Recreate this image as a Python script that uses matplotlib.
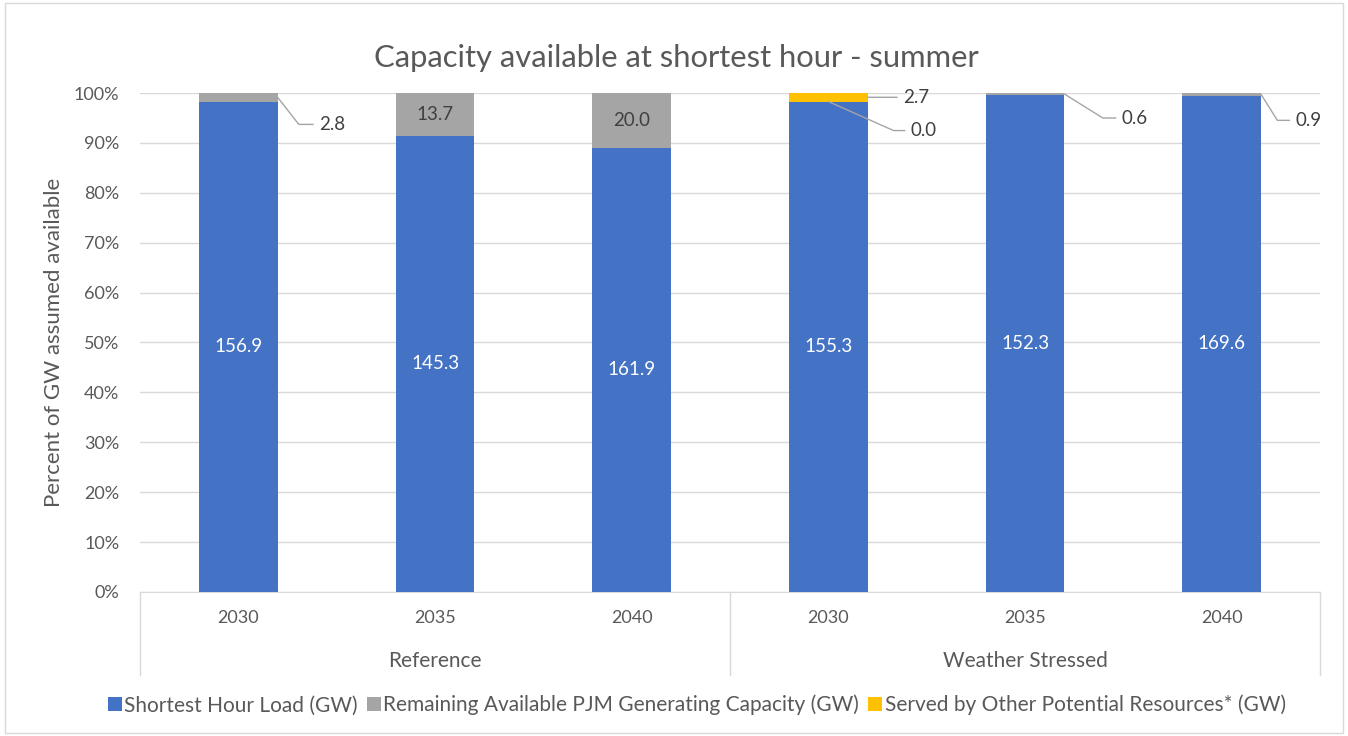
import numpy as np
import matplotlib
matplotlib.use("Agg")
import matplotlib.pyplot as plt
import matplotlib.transforms as mtransforms
from matplotlib.patches import Rectangle

plt.rcParams['font.family'] = ['Lato', 'DejaVu Sans']

# Datos (GW)
titulo = "Capacity available at shortest hour - summer"
escenarios = ["Reference", "Weather Stressed"]
anios = ["2030", "2035", "2040", "2030", "2035", "2040"]
carga = [156.9, 145.3, 161.9, 155.3, 152.3, 169.6]
restante = [2.8, 13.7, 20.0, 0.0, 0.6, 0.9]
otros = [0.0, 0.0, 0.0, 2.7, 0.0, 0.0]
series = [
    "Shortest Hour Load (GW)",
    "Remaining Available PJM Generating Capacity (GW)",
    "Served by Other Potential Resources* (GW)",
]
colores = ["#4472C4", "#A5A5A5", "#FFC000"]

GRIS_TXT = "#595959"
GRIS_LINEA = "#D9D9D9"

# Etiquetas fuera de la barra: (serie, barra) -> (desplazamiento x en la barra, dx px, dy px, ángulo guía)
etiquetas_fuera = {
    (1, 0): (0.2, 41, -27, -52),
    (1, 3): (0.0, 82, -29, -24),
    (1, 4): (0.2, 57, -24, -32),
    (1, 5): (0.2, 34, -26, -58),
    (2, 3): (0.2, 35, 0, None),
}


def main():
    valores = np.array([carga, restante, otros])
    fracciones = valores / valores.sum(axis=0)
    x = np.arange(len(anios))
    ancho = 0.40

    fig = plt.figure(figsize=(13.48, 7.36), dpi=100)
    ax = fig.add_axes([0.1039, 0.1957, 0.8754, 0.6779])

    base = np.zeros(len(anios))
    for s in range(3):
        ax.bar(x, fracciones[s], ancho, bottom=base, color=colores[s],
               label=series[s], zorder=3)
        for i in range(len(anios)):
            v = valores[s, i]
            medio = base[i] + fracciones[s, i] / 2
            if (s, i) in etiquetas_fuera:
                off, dx, dy, ang = etiquetas_fuera[(s, i)]
                if ang is None:
                    estilo = "arc3,rad=0"
                else:
                    estilo = "angle,angleA=180,angleB=%d,rad=0" % ang
                ax.annotate("%.1f" % v, xy=(i + off, medio), xytext=(dx, dy),
                            textcoords="offset pixels", ha="left", va="center",
                            fontsize=13.5, color="#404040", zorder=5,
                            arrowprops=dict(arrowstyle="-", color="#A5A5A5", lw=1,
                                            connectionstyle=estilo, relpos=(0, 0.5),
                                            shrinkA=2, shrinkB=0))
            elif s == 0:
                ax.text(i, medio, "%.1f" % v, ha="center", va="center",
                        fontsize=13.5, color="white", zorder=5)
            elif s == 1:
                ax.text(i, medio, "%.1f" % v, ha="center", va="center",
                        fontsize=13.5, color="#404040", zorder=5)
        base = base + fracciones[s]

    ax.set_xlim(-0.5, len(anios) - 0.5)
    ax.set_ylim(0, 1)
    ax.set_yticks(np.arange(0, 1.01, 0.1))
    ax.set_yticklabels(["%d%%" % round(t * 100) for t in np.arange(0, 1.01, 0.1)])
    ax.set_xticks(x)
    ax.set_xticklabels(anios)
    ax.tick_params(axis="y", length=0, pad=15, labelsize=13, labelcolor=GRIS_TXT)
    ax.tick_params(axis="x", length=0, pad=13, labelsize=13, labelcolor=GRIS_TXT)
    ax.grid(axis="y", color=GRIS_LINEA, lw=1, zorder=0)
    for lado in ["left", "right", "top"]:
        ax.spines[lado].set_visible(False)
    ax.spines["bottom"].set_color(GRIS_LINEA)
    ax.set_ylabel("Percent of GW assumed available", fontsize=16,
                  color=GRIS_TXT, labelpad=7)

    # Eje de categorías agrupado
    trans = mtransforms.blended_transform_factory(ax.transData, ax.transAxes)
    for xb in [-0.5, 2.5, len(anios) - 0.5]:
        ax.plot([xb, xb], [0, -0.166], color=GRIS_LINEA, lw=1,
                transform=trans, clip_on=False)
    for g, nombre in enumerate(escenarios):
        ax.text(g * 3 + 1, -0.138, nombre, transform=trans, ha="center",
                va="center", fontsize=15, color=GRIS_TXT)

    fig.suptitle(titulo, x=0.5015, y=0.94, fontsize=22.3, color=GRIS_TXT)

    fig.legend(loc="center", bbox_to_anchor=(0.517, 0.042), ncol=3,
               frameon=False, fontsize=15, labelcolor=GRIS_TXT,
               handlelength=0.65, handleheight=0.65, handletextpad=0.12,
               columnspacing=0.45)

    fig.patches.append(Rectangle((0.004, 0.004), 0.992, 0.992, transform=fig.transFigure,
                                 fill=False, edgecolor=GRIS_LINEA, lw=1))

    fig.savefig("out.png", dpi=100)


if __name__ == "__main__":
    main()
